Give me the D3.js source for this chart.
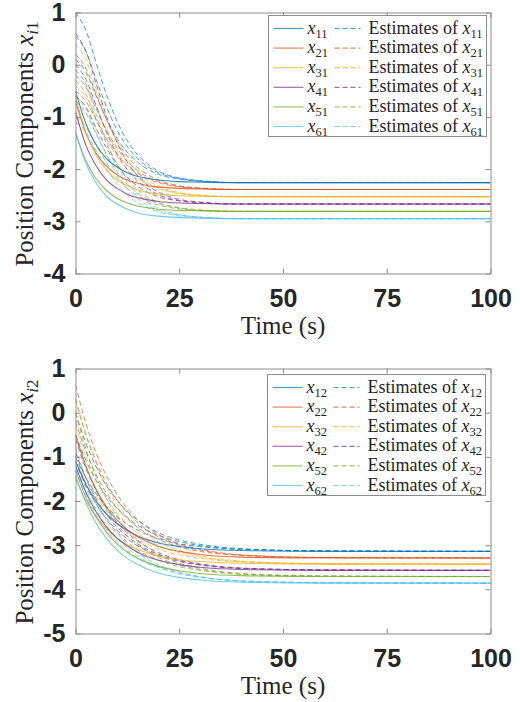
<!DOCTYPE html>
<html>
<head>
<meta charset="utf-8">
<script src="https://cdn.jsdelivr.net/npm/d3@7"></script>
<style>
  body { margin: 0; background: #fff; }
</style>
</head>
<body>
<script>
// sample times (s) the curves were read at
const timeSteps = [0, 2.5, 5, 7.5, 10, 12.5, 15, 17.5, 20, 25, 30, 40, 60, 100]

// first components x_i1 (true) and estimates of them
const x11 = [-0.50, -1.13, -1.54, -1.80, -1.96, -2.07, -2.14, -2.18, -2.21, -2.24, -2.25, -2.26, -2.26, -2.26]
const est11 = [
  [1.00, 0.66, 0.03, -0.58, -1.08, -1.46, -1.73, -1.91, -2.04, -2.17, -2.22, -2.26, -2.26, -2.26],
  [0.55, 0.26, -0.29, -0.81, -1.25, -1.57, -1.80, -1.96, -2.07, -2.18, -2.23, -2.26, -2.26, -2.26],
  [0.10, -0.14, -0.60, -1.05, -1.41, -1.68, -1.87, -2.01, -2.10, -2.19, -2.23, -2.26, -2.26, -2.26]]
const x21 = [-0.70, -1.31, -1.70, -1.95, -2.11, -2.21, -2.27, -2.32, -2.34, -2.37, -2.38, -2.39, -2.39, -2.39]
const est21 = [
  [0.20, -0.07, -0.57, -1.06, -1.46, -1.75, -1.97, -2.11, -2.21, -2.32, -2.36, -2.39, -2.39, -2.39],
  [-0.20, -0.43, -0.85, -1.26, -1.60, -1.85, -2.03, -2.16, -2.24, -2.33, -2.37, -2.39, -2.39, -2.39],
  [-0.50, -0.70, -1.06, -1.42, -1.71, -1.93, -2.08, -2.19, -2.26, -2.34, -2.37, -2.39, -2.39, -2.39]]
const x31 = [-0.60, -1.30, -1.74, -2.02, -2.21, -2.32, -2.40, -2.45, -2.48, -2.51, -2.52, -2.53, -2.53, -2.53]
const est31 = [
  [0.40, 0.10, -0.47, -1.02, -1.47, -1.81, -2.05, -2.22, -2.33, -2.45, -2.50, -2.53, -2.53, -2.53],
  [-0.10, -0.35, -0.82, -1.28, -1.65, -1.93, -2.13, -2.27, -2.36, -2.46, -2.50, -2.53, -2.53, -2.53],
  [-0.40, -0.62, -1.03, -1.43, -1.76, -2.01, -2.18, -2.30, -2.38, -2.47, -2.51, -2.53, -2.53, -2.53]]
const x41 = [-0.90, -1.54, -1.94, -2.21, -2.37, -2.48, -2.55, -2.59, -2.62, -2.65, -2.66, -2.67, -2.67, -2.67]
const est41 = [
  [0.60, 0.26, -0.37, -0.99, -1.49, -1.87, -2.13, -2.32, -2.44, -2.58, -2.63, -2.67, -2.67, -2.67],
  [0.00, -0.28, -0.79, -1.30, -1.71, -2.01, -2.23, -2.38, -2.49, -2.60, -2.64, -2.67, -2.67, -2.67],
  [-0.60, -0.81, -1.22, -1.60, -1.92, -2.16, -2.33, -2.45, -2.53, -2.61, -2.65, -2.67, -2.67, -2.67]]
const x51 = [-1.30, -1.84, -2.19, -2.41, -2.56, -2.65, -2.71, -2.74, -2.77, -2.79, -2.80, -2.81, -2.81, -2.81]
const est51 = [
  [-0.30, -0.56, -1.05, -1.52, -1.90, -2.19, -2.40, -2.54, -2.64, -2.74, -2.78, -2.81, -2.81, -2.81],
  [-0.70, -0.92, -1.33, -1.72, -2.05, -2.29, -2.46, -2.58, -2.66, -2.75, -2.79, -2.81, -2.81, -2.81],
  [-1.00, -1.19, -1.54, -1.88, -2.16, -2.37, -2.51, -2.62, -2.69, -2.76, -2.79, -2.81, -2.81, -2.81]]
const x61 = [-1.29, -1.89, -2.27, -2.52, -2.67, -2.77, -2.84, -2.88, -2.90, -2.93, -2.94, -2.95, -2.95, -2.95]
const est61 = [
  [-0.10, -0.39, -0.95, -1.48, -1.92, -2.25, -2.48, -2.65, -2.75, -2.87, -2.92, -2.95, -2.95, -2.95],
  [-0.60, -0.84, -1.30, -1.74, -2.10, -2.37, -2.57, -2.70, -2.79, -2.88, -2.92, -2.95, -2.95, -2.95],
  [-1.10, -1.29, -1.65, -2.00, -2.28, -2.50, -2.65, -2.75, -2.82, -2.90, -2.93, -2.95, -2.95, -2.95]]

// second components x_i2 (true) and estimates of them
const x12 = [-1.10, -1.62, -2.01, -2.30, -2.51, -2.67, -2.79, -2.88, -2.95, -3.03, -3.08, -3.12, -3.14, -3.14]
const est12 = [
  [0.00, -0.69, -1.23, -1.66, -1.98, -2.24, -2.44, -2.59, -2.72, -2.88, -2.98, -3.08, -3.13, -3.14],
  [-0.50, -1.08, -1.54, -1.89, -2.17, -2.38, -2.55, -2.68, -2.78, -2.92, -3.01, -3.09, -3.13, -3.14],
  [-1.00, -1.47, -1.84, -2.13, -2.35, -2.53, -2.66, -2.77, -2.85, -2.97, -3.03, -3.10, -3.13, -3.14]]
const x22 = [-0.50, -1.21, -1.74, -2.14, -2.43, -2.65, -2.81, -2.93, -3.03, -3.14, -3.21, -3.27, -3.29, -3.29]
const est22 = [
  [0.62, -0.24, -0.92, -1.44, -1.85, -2.17, -2.42, -2.61, -2.76, -2.97, -3.09, -3.22, -3.28, -3.29],
  [0.30, -0.49, -1.11, -1.60, -1.97, -2.26, -2.49, -2.67, -2.81, -3.00, -3.11, -3.23, -3.28, -3.29],
  [-0.20, -0.88, -1.41, -1.83, -2.15, -2.40, -2.60, -2.75, -2.87, -3.04, -3.14, -3.23, -3.28, -3.29]]
const x32 = [-1.50, -1.99, -2.36, -2.63, -2.84, -2.99, -3.10, -3.18, -3.25, -3.33, -3.37, -3.41, -3.43, -3.43]
const est32 = [
  [0.30, -0.52, -1.17, -1.67, -2.06, -2.36, -2.60, -2.78, -2.93, -3.12, -3.24, -3.36, -3.42, -3.43],
  [-0.30, -0.99, -1.53, -1.95, -2.28, -2.53, -2.73, -2.89, -3.01, -3.17, -3.27, -3.37, -3.42, -3.43],
  [-0.90, -1.46, -1.89, -2.24, -2.50, -2.70, -2.87, -2.99, -3.09, -3.22, -3.30, -3.38, -3.42, -3.43]]
const x42 = [-1.20, -1.80, -2.25, -2.59, -2.84, -3.02, -3.16, -3.27, -3.34, -3.44, -3.50, -3.55, -3.57, -3.57]
const est42 = [
  [-0.60, -1.26, -1.77, -2.17, -2.48, -2.72, -2.91, -3.05, -3.17, -3.33, -3.42, -3.52, -3.56, -3.57],
  [-0.90, -1.49, -1.95, -2.31, -2.59, -2.80, -2.97, -3.11, -3.21, -3.35, -3.44, -3.52, -3.56, -3.57],
  [-1.10, -1.65, -2.07, -2.40, -2.66, -2.86, -3.02, -3.14, -3.24, -3.37, -3.45, -3.53, -3.56, -3.57]]
const x52 = [-1.30, -1.92, -2.37, -2.71, -2.97, -3.16, -3.30, -3.40, -3.48, -3.58, -3.64, -3.69, -3.71, -3.71]
const est52 = [
  [0.00, -0.82, -1.46, -1.96, -2.35, -2.65, -2.88, -3.06, -3.21, -3.41, -3.52, -3.64, -3.70, -3.71],
  [-0.50, -1.21, -1.76, -2.20, -2.53, -2.79, -2.99, -3.15, -3.28, -3.45, -3.55, -3.65, -3.70, -3.71],
  [-1.00, -1.60, -2.07, -2.43, -2.71, -2.93, -3.11, -3.24, -3.34, -3.49, -3.57, -3.66, -3.70, -3.71]]
const x62 = [-1.42, -2.04, -2.51, -2.85, -3.11, -3.30, -3.44, -3.55, -3.63, -3.73, -3.79, -3.84, -3.86, -3.86]
const est62 = [
  [-0.80, -1.48, -2.00, -2.42, -2.73, -2.98, -3.18, -3.33, -3.45, -3.61, -3.71, -3.81, -3.85, -3.86],
  [-1.10, -1.71, -2.19, -2.56, -2.84, -3.07, -3.25, -3.38, -3.49, -3.63, -3.72, -3.81, -3.85, -3.86],
  [-1.30, -1.87, -2.31, -2.65, -2.92, -3.13, -3.29, -3.42, -3.51, -3.65, -3.73, -3.81, -3.85, -3.86]]

const xTicks = [0, 25, 50, 75, 100]
const yTicksTop = [1, 0, -1, -2, -3, -4]
const yTicksBottom = [1, 0, -1, -2, -3, -4, -5]
const subsTop = ['11', '21', '31', '41', '51', '61']
const subsBottom = ['12', '22', '32', '42', '52', '62']

const colors = ['#0072BD', '#D95319', '#EDB120', '#7E2F8E', '#77AC30', '#4DBEEE']

let width = 520
let height = 702
let axisColor = '#8c8c8c'
let textColor = '#262626'
let serif = '"Liberation Serif", "Times New Roman", serif'
let sans = '"Liberation Sans", Arial, sans-serif'

const svg = d3.select('body')
  .append('svg')
  .attr('width', width)
  .attr('height', height)

// plain hyphen minus, integers only
const tickText = d => String(d)

function drawPanel(p) {
  const x = d3.scaleLinear().domain([0, 100]).range([75.5, 490.5])
  const y = d3.scaleLinear()
    .domain([d3.min(p.yTicks), d3.max(p.yTicks)])
    .range([p.bottom, p.top])

  const g = svg.append('g')

  g.append('clipPath').attr('id', p.id)
    .append('rect')
    .attr('x', x(0)).attr('y', y(d3.max(p.yTicks)))
    .attr('width', x(100) - x(0))
    .attr('height', y(d3.min(p.yTicks)) - y(d3.max(p.yTicks)))

  const line = d3.line()
    .x((d, i) => x(timeSteps[i]))
    .y(d => y(d))
    .curve(d3.curveMonotoneX)

  const plot = g.append('g').attr('clip-path', `url(#${p.id})`)

  // estimates (dashed)
  p.estimates.forEach((group, k) => {
    plot.selectAll(null)
      .data(group)
      .enter().append('path')
      .attr('d', line)
      .attr('fill', 'none')
      .attr('stroke', colors[k])
      .attr('stroke-width', 1)
      .attr('stroke-opacity', 0.7)
      .attr('stroke-dasharray', '5,3')
  })

  // true trajectories (solid)
  plot.selectAll(null)
    .data(p.solids)
    .enter().append('path')
    .attr('d', line)
    .attr('fill', 'none')
    .attr('stroke', (d, k) => colors[k])
    .attr('stroke-width', 1.1)
    .attr('stroke-opacity', 0.8)

  // axes, ticks pointing inward on all four sides
  const styleAxis = sel => {
    sel.select('.domain').attr('stroke', axisColor)
    sel.selectAll('.tick line').attr('stroke', axisColor)
    sel.selectAll('text')
      .attr('fill', textColor)
      .attr('font-family', sans)
      .attr('font-weight', 'bold')
      .attr('font-size', 25)
  }

  g.append('g')
    .attr('transform', `translate(0,${p.bottom})`)
    .call(d3.axisBottom(x).tickValues(xTicks).tickFormat(tickText).tickSizeInner(-5).tickSizeOuter(0).tickPadding(16))
    .call(styleAxis)

  g.append('g')
    .attr('transform', `translate(0,${p.top})`)
    .call(d3.axisTop(x).tickValues(xTicks).tickSizeInner(-5).tickSizeOuter(0).tickFormat(''))
    .call(styleAxis)

  g.append('g')
    .attr('transform', `translate(${x(0)},0)`)
    .call(d3.axisLeft(y).tickValues(p.yTicks).tickFormat(tickText).tickSizeInner(-5).tickSizeOuter(0).tickPadding(10))
    .call(styleAxis)

  g.append('g')
    .attr('transform', `translate(${x(100)},0)`)
    .call(d3.axisRight(y).tickValues(p.yTicks).tickSizeInner(-5).tickSizeOuter(0).tickFormat(''))
    .call(styleAxis)

  // axis titles
  g.append('text')
    .attr('x', (x(0) + x(100)) / 2)
    .attr('y', p.bottom + 60)
    .attr('text-anchor', 'middle')
    .attr('font-family', serif)
    .attr('font-size', 25)
    .attr('fill', textColor)
    .text('Time (s)')

  const yl = g.append('text')
    .attr('transform', `translate(33,${(p.top + p.bottom) / 2 + 1}) rotate(-90)`)
    .attr('text-anchor', 'middle')
    .attr('font-family', serif)
    .attr('font-size', 25)
    .attr('fill', textColor)
  yl.append('tspan').text('Position Components ')
  yl.append('tspan').attr('font-style', 'italic').text('x')
  yl.append('tspan').attr('font-size', 17).attr('dy', 5).attr('font-style', 'italic').text('i')
  yl.append('tspan').attr('font-size', 17).text(p.yLabelSub)

  // legend
  const lg = g.append('g').attr('transform', `translate(${p.legendX},${p.legendY})`)
  lg.append('rect')
    .attr('width', 218).attr('height', 121)
    .attr('fill', '#fff')
    .attr('stroke', axisColor)
    .attr('stroke-width', 1)

  const rowH = 19.6
  p.subs.forEach((s, k) => {
    const ry = 13 + k * rowH
    const row = lg.append('g').attr('transform', `translate(0,${ry})`)
    row.append('line')
      .attr('x1', 5).attr('x2', 35).attr('y1', 0).attr('y2', 0)
      .attr('stroke', colors[k]).attr('stroke-opacity', 0.7).attr('stroke-width', 1.2)
    row.append('line')
      .attr('x1', 66).attr('x2', 92).attr('y1', 0).attr('y2', 0)
      .attr('stroke', colors[k]).attr('stroke-opacity', 0.7).attr('stroke-width', 1.2)
      .attr('stroke-dasharray', '5,3')

    const t1 = row.append('text')
      .attr('x', 39).attr('y', 5)
      .attr('font-family', serif).attr('font-size', 18).attr('fill', textColor)
    t1.append('tspan').attr('font-style', 'italic').text('x')
    t1.append('tspan').attr('font-size', 12.5).attr('dy', 4).text(s)

    const t2 = row.append('text')
      .attr('x', 100).attr('y', 5)
      .attr('font-family', serif).attr('font-size', 18).attr('fill', textColor)
    t2.append('tspan').text('Estimates of ')
    t2.append('tspan').attr('font-style', 'italic').text('x')
    t2.append('tspan').attr('font-size', 12.5).attr('dy', 4).text(s)
  })
}

drawPanel({
  id: 'clipTop', top: 12.5, bottom: 273.5, yTicks: yTicksTop,
  solids: [x11, x21, x31, x41, x51, x61],
  estimates: [est11, est21, est31, est41, est51, est61],
  subs: subsTop, yLabelSub: '1',
  legendX: 268.5, legendY: 15.5
})

drawPanel({
  id: 'clipBottom', top: 368.5, bottom: 633.5, yTicks: yTicksBottom,
  solids: [x12, x22, x32, x42, x52, x62],
  estimates: [est12, est22, est32, est42, est52, est62],
  subs: subsBottom, yLabelSub: '2',
  legendX: 267.5, legendY: 374.5
})
</script>
</body>
</html>
